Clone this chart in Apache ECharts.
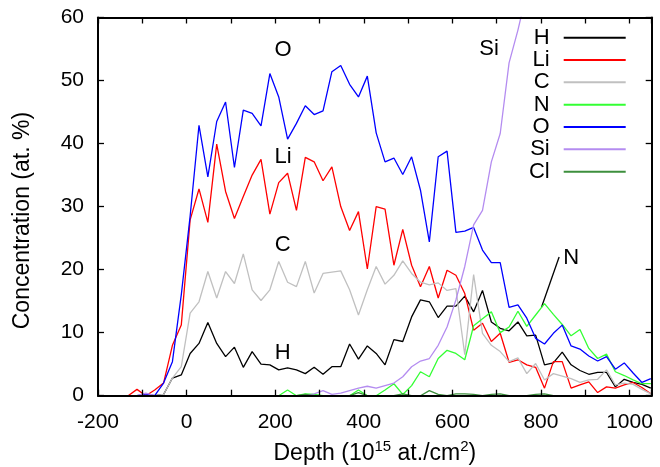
<!DOCTYPE html>
<html><head><meta charset="utf-8">
<script src="https://cdn.jsdelivr.net/npm/echarts@6/dist/echarts.min.js"></script>
<style>html,body{margin:0;padding:0;background:#fff}#c{width:660px;height:467px}</style>
</head><body><div id="c"></div>
<script>
const depth = [-132,-112,-92,-72,-52,-32,-12,8,28,48,68,88,108,128,148,168,188,208,228,248,268,288,308,328,348,368,388,408,428,448,468,488,508,528,548,568,588,608,628,648,668,688,708,728,748,768,788,808,828,848,868,888,908,928,948,968,988,1008,1028,1048];

const H = [0,0,0,0,0.2,2.8,3.3, 6.7,8.3,11.6,8.3,6.2,7.7,4.5,7.0,5.0,4.9, 4.1,4.4,4.1,3.5,4.5,3.4,4.6,4.6,8.2,5.8, 7.9,6.7,4.9,8.9,8.6,12.5,15.2,14.9,12.4,14.2, 14.2,15.8,13.3,16.7,11.7,10.7,10.3,11.7,9.5,9.6, 4.9,5.2,6.9,4.9,4.0,3.4,3.7,3.7,1.4,2.6, 2.1,1.8,1.2];
const Li = [0,1.0,0,0.9,2.0,8.0,11.2, 27.9,32.8,27.5,39.9,32.4,28.1,31.6,35.0,37.5,28.8, 33.8,35.3,29.4,37.8,37.1,34.1,36.3,30.0,26.2,29.2, 20.1,30.0,29.6,20.7,26.4,20.7,17.3,20.5,15.5,19.9, 19.1,16.2,10.4,11.5,8.6,9.9,5.3,5.7,4.9,4.5, 1.2,5.4,5.4,1.2,1.7,2.2,0.5,1.4,1.2,1.7, 2.1,1.3,0.3];
const C = [0,0,0,0,0.2,2.8,4.6, 13.1,14.9,19.7,15.5,19.7,17.8,22.5,16.8,15.1,16.8, 21.3,18.0,17.3,21.3,16.3,19.4,19.6,19.8,16.8,12.8, 16.8,20.5,17.7,19.1,21.4,19.4,18.0,17.6,17.9,16.7, 17.0,6.5,19.2,9.9,8.0,7.0,5.4,6.0,3.5,5.1, 2.5,3.5,3.1,2.7,2.1,2.5,2.6,4.1,1.7,2.0, 1.8,1.0,0.3];
const N = [0,0,0,0,0,0,0, 0,0,0,0,0,0,0,0,0,0, 0,0.9,0,0.3,0.2,0,0,0,0,0.9, 0,0,0.9,1.9,0.2,1.6,3.8,3.0,5.9,7.2, 6.7,5.7,11.1,12.2,13.3,10.0,10.9,13.4,11.0,12.8, 14.6,12.9,11.3,9.5,10.5,7.5,5.9,6.6,3.8,3.2, 2.5,1.9,1.9];
const O = [0,0,0.3,0,2.0,5.4,16.0, 28.5,42.9,34.7,43.5,46.6,36.2,45.3,44.8,42.8,51.1, 47.4,40.7,43.2,46.0,44.6,45.2,51.4,52.4,49.4,47.4, 50.7,41.7,37.1,37.7,35.1,37.9,32.6,24.4,37.9,38.8, 25.9,26.1,26.7,23.1,21.1,21.1,14.0,14.4,12.3,9.1, 8.2,9.9,11.2,7.9,7.4,6.3,5.5,6.2,4.2,5.2, 3.6,2.1,2.7];
const Si = [0,0,0.4,0,0,0,0, 0,0,0,0,0,0,0,0,0,0, 0,0,0,0,0.3,0.8,0.2,0.4,0.8,1.2, 1.5,1.2,1.6,2.0,3.0,4.6,5.5,5.9,8.0,10.9, 15.2,20.5,27.1,29.4,37.1,41.6,52.8,58.0,64.0,68.0, 71,73,75,76,77,78,79,80,80,81, 81,82,82];
const Cl = [0,0,0,0,0,0,0, 0,0,0,0,0,0,0,0,0,0, 0,0,0,0.2,0,0,0,0,0,0.5, 0,0,0,0,0.3,0,0,0.8,0.2,0, 0.3,0.3,0.2,0,0.2,0.3,0,0,0,0.2, 0.3,0,0,0,0,0,0,0,0,0, 0,0,0];

const seriesNames = ['H','Li','C','N','O','Si','Cl'];
const seriesValues = [H, Li, C, N, O, Si, Cl];
const seriesColors = ['#000000','#ff0000','#c0c0c0','#33ff33','#0000ff','#b48cf0','#3d8f3d'];

// annotation labels (data coordinates)
const annotations = {O:[218,54.9], Li:[218,37.9], C:[217,23.9], H:[217,6.85], Si:[683,55.0], N:[868,21.9]};
const nPointer = [[841,22.0],[801,14.0]];

const FONT = "'Liberation Sans', Arial, Helvetica, sans-serif";

const chart = echarts.init(document.getElementById('c'), null, {renderer:'canvas'});

const axisCommon = {
  type: 'value', z: 10,
  axisLine: {show: true, onZero: false, lineStyle: {color: '#000', width: 2}},
  axisTick: {show: true, inside: true, length: 6, lineStyle: {color: '#000', width: 1.3}},
  splitLine: {show: false}
};

const series = seriesNames.map((name, i) => {
  const s = {
    name: name, type: 'line',
    data: depth.map((d, j) => [d, seriesValues[i][j]]),
    symbol: 'none', showSymbol: false,
    lineStyle: {color: seriesColors[i], width: 1.3},
    itemStyle: {color: seriesColors[i]},
    clip: true, z: 2 + i
  };
  if (annotations[name]) {
    s.markPoint = {
      symbol: 'rect', symbolSize: 1, silent: true, animation: false,
      itemStyle: {color: 'rgba(0,0,0,0)'},
      label: {show: true, position: 'inside', formatter: name, color: '#000', fontSize: 22, fontFamily: FONT},
      data: [{coord: annotations[name]}]
    };
  }
  if (name === 'N') {
    s.markLine = {
      symbol: 'none', silent: true, animation: false,
      lineStyle: {color: '#000', width: 1.3, type: 'solid'},
      label: {show: false},
      data: [[{coord: nPointer[0]}, {coord: nPointer[1]}]]
    };
  }
  return s;
});

chart.setOption({
  animation: false,
  backgroundColor: '#fff',
  textStyle: {fontFamily: FONT},
  grid: {left: 98, right: 8.3, top: 17.5, bottom: 71.3, containLabel: false, outerBoundsMode: 'none'},
  legend: {
    orient: 'vertical', right: 34.3, top: 26.7, align: 'right', padding: 0,
    itemGap: 0.33, itemWidth: 62, itemHeight: 2, icon: 'rect',
    textStyle: {fontSize: 22, lineHeight: 22, width: 30, align: 'right', padding: [0, 9, 0, 0], color: '#000', fontFamily: FONT},
    data: seriesNames
  },
  xAxis: [
    Object.assign({}, axisCommon, {
      min: -200, max: 1050, interval: 100, position: 'bottom',
      axisLabel: {show: true, margin: 16, fontSize: 21, color: '#000', fontFamily: FONT,
        formatter: v => (v % 200 === 0 && v <= 1000) ? String(v) : ''},
      name: 'Depth (10{sup|15} at./cm{sup|2})',
      nameLocation: 'middle', nameGap: 44,
      nameTextStyle: {fontSize: 23, color: '#000', fontFamily: FONT, lineHeight: 27,
        rich: {sup: {fontSize: 15, lineHeight: 15, padding: [0,0,12,0], color: '#000', fontFamily: FONT}}}
    }),
    Object.assign({}, axisCommon, {
      min: -200, max: 1050, interval: 100, position: 'top',
      axisLabel: {show: false}
    })
  ],
  yAxis: [
    Object.assign({}, axisCommon, {
      min: 0, max: 60, interval: 10, position: 'left',
      axisLabel: {show: true, margin: 14, fontSize: 21, color: '#000', fontFamily: FONT},
      name: 'Concentration (at. %)', nameLocation: 'middle', nameRotate: 90, nameGap: 64,
      nameTextStyle: {fontSize: 23, color: '#000', fontFamily: FONT, padding: [0, 28, 0, 0]}
    }),
    Object.assign({}, axisCommon, {
      min: 0, max: 60, interval: 10, position: 'right',
      axisLabel: {show: false}
    })
  ],
  series: series
});
</script></body></html>
